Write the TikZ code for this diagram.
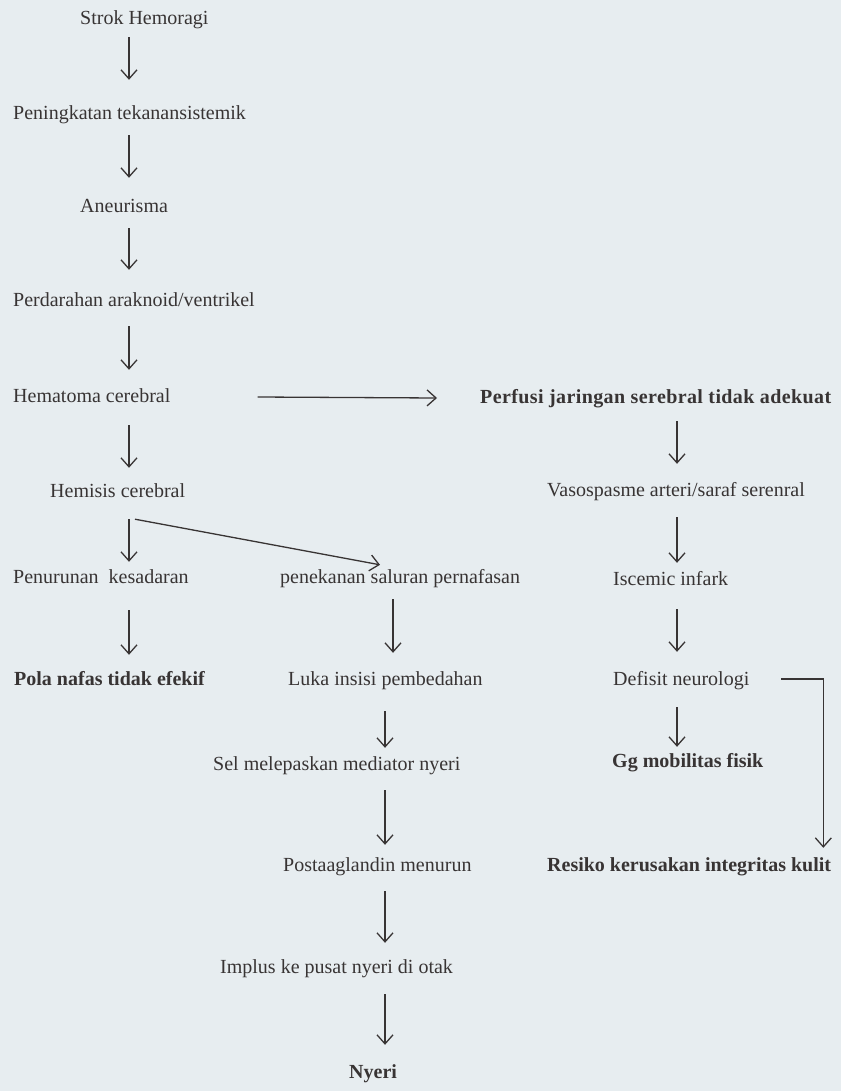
\documentclass[tikz,border=0pt]{standalone}
\usepackage{fontspec}
\setmainfont{Liberation Serif}
\usetikzlibrary{arrows.meta}
\definecolor{paper}{RGB}{231,237,240}
\definecolor{ink}{RGB}{56,52,52}
\tikzset{
  lbl/.style={anchor=west, inner sep=0pt, text=ink, font=\fontsize{20}{24}\selectfont, text height=14pt, text depth=4pt},
  blbl/.style={lbl, font=\fontsize{20}{24}\selectfont\bfseries},
  arr/.style={draw=ink, line width=1.3pt, -{Straight Barb[length=9pt,width=16pt,line width=1.3pt]}}
}
\begin{document}
\begin{tikzpicture}[x=1pt,y=-1pt]
\fill[paper] (0,0) rectangle (841,1091);
\useasboundingbox (0,0) rectangle (841,1091);
\coordinate (colA) at (129,0);
\coordinate (colB) at (385,0);
\coordinate (colC) at (677,0);
% left column
\node[lbl] (strok) at (80,20) {Strok Hemoragi};
\node[lbl] (pen) at (13,115) {Peningkatan tekanansistemik};
\node[lbl] (aneu) at (80,208) {Aneurisma};
\node[lbl] (perd) at (13,301) {Perdarahan araknoid/ventrikel};
\node[lbl] (hema) at (13,397) {Hematoma cerebral};
\node[lbl] (hemi) at (50,492) {Hemisis cerebral};
\node[lbl] (penu) at (13,578) {Penurunan\ \ kesadaran};
\node[blbl] (pola) at (14,680) {Pola nafas tidak efekif};
% middle column
\node[lbl] (pene) at (280,578) {penekanan saluran pernafasan};
\node[lbl] (luka) at (288,680) {Luka insisi pembedahan};
\node[lbl] (sel) at (213,765) {Sel melepaskan mediator nyeri};
\node[lbl] (post) at (283,866) {Postaaglandin menurun};
\node[lbl] (impl) at (220,968) {Implus ke pusat nyeri di otak};
\node[blbl] (nyeri) at (349,1073) {Nyeri};
% right column
\node[blbl] (perf) at (480,398) {\addfontfeature{LetterSpace=2}Perfusi jaringan serebral tidak adekuat};
\node[lbl] (vaso) at (547,491) {Vasospasme arteri/saraf serenral};
\node[lbl] (isc) at (613,580) {Iscemic infark};
\node[lbl] (def) at (613,680) {Defisit neurologi};
\node[blbl] (gg) at (612,762) {Gg mobilitas fisik};
\node[blbl] (res) at (547,866) {Resiko kerusakan integritas kulit};
% left arrows
\draw[arr] ([yshift=-8pt]strok.south -| colA) -- ([yshift=26pt]pen.north -| colA);
\draw[arr] ([yshift=-11pt]pen.south -| colA) -- ([yshift=21pt]aneu.north -| colA);
\draw[arr] ([yshift=-11pt]aneu.south -| colA) -- ([yshift=22pt]perd.north -| colA);
\draw[arr] ([yshift=-16pt]perd.south -| colA) -- ([yshift=18pt]hema.north -| colA);
\draw[arr] ([yshift=-19pt]hema.south -| colA) -- ([yshift=15pt]hemi.north -| colA);
\draw[arr] ([yshift=-18pt]hemi.south -| colA) -- ([yshift=7pt]penu.north -| colA);
\draw[arr] ([xshift=6pt,yshift=-18pt]hemi.south -| colA) -- ([xshift=100pt,yshift=4pt]pene.north west);
\draw[arr] ([yshift=-23pt]penu.south -| colA) -- ([yshift=16pt]pola.north -| colA);
% horizontal
\draw[arr] ([xshift=87pt]hema.east) -- ([xshift=-43pt]perf.west);
% middle arrows
\draw[arr] ([xshift=8pt,yshift=-12pt]pene.south -| colB) -- ([xshift=8pt,yshift=18pt]luka.north -| colB);
\draw[arr] ([yshift=-22pt]luka.south -| colB) -- ([yshift=8pt]sel.north -| colB);
\draw[arr] ([yshift=-16pt]sel.south -| colB) -- ([yshift=12pt]post.north -| colB);
\draw[arr] ([yshift=-16pt]post.south -| colB) -- ([yshift=16pt]impl.north -| colB);
\draw[arr] ([yshift=-17pt]impl.south -| colB) -- ([yshift=19pt]nyeri.north -| colB);
% right arrows
\draw[arr] ([yshift=-14pt]perf.south -| colC) -- ([yshift=18pt]vaso.north -| colC);
\draw[arr] ([yshift=-17pt]vaso.south -| colC) -- ([yshift=8pt]isc.north -| colC);
\draw[arr] ([yshift=-20pt]isc.south -| colC) -- ([yshift=19pt]def.north -| colC);
\draw[arr] ([yshift=-18pt]def.south -| colC) -- ([yshift=6pt]gg.north -| colC);
\draw[arr] ([xshift=32pt,yshift=1pt]def.east) -| ([xshift=-8pt,yshift=9pt]res.north east);
\end{tikzpicture}
\end{document}
